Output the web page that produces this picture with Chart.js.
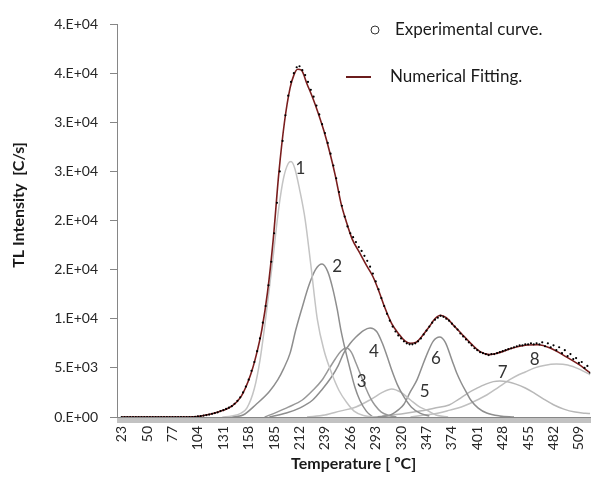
<!DOCTYPE html>
<html>
<head>
<meta charset="utf-8">
<title>TL glow curve</title>
<script src="https://cdn.jsdelivr.net/npm/chart.js@4.4.1/dist/chart.umd.min.js"></script>
<style>
  html, body { margin: 0; padding: 0; background: #fff; }
</style>
</head>
<body>
<canvas id="myChart" width="610" height="492"></canvas>
<script>
// ---- data ----
var xTickLabels = [23, 50, 77, 104, 131, 158, 185, 212, 239, 266, 293, 320, 347, 374, 401, 428, 455, 482, 509];
var yTickLabels = ['0.E+00', '5.E+03', '1.E+04', '2.E+04', '2.E+04', '3.E+04', '3.E+04', '4.E+04', '4.E+04'];

// experimental curve, one reading every 3 degC starting at 23 degC
var expStartT = 23;
var expStepT = 3;
var expValues = [
    0, 0, 0, 0, 0, 0, 0, 0, 0, 0,                                   // 23..50
    0, 0, 0, 0, 0, 0, 0, 0, 0, 0,                                   // 53..80
    0, 0, 0, 0, 0, 0, 20, 60, 100, 150,                             // 83..110
    200, 250, 320, 400, 480, 600, 700, 820, 950, 1100,              // 113..140
    1350, 1650, 2000, 2500, 3100, 3800, 4700, 5600, 6700, 8000,     // 143..170
    9600, 11300, 13400, 15800, 18700, 21800, 25000, 28100, 30700, 32700, // 173..200
    34100, 35000, 35600, 35700, 35300, 34800, 34100, 33300, 32600, 31700, // 203..230
    30800, 29800, 28900, 27900, 26800, 25600, 24300, 22900, 21500, 20400, // 233..260
    19400, 18700, 18300, 17800, 17300, 16900, 16400, 15900, 15300, 14600, // 263..290
    13800, 13000, 12100, 11300, 10500, 9800, 9200, 8700, 8300, 8000,  // 293..320
    7700, 7500, 7400, 7400, 7500, 7700, 8000, 8400, 8800, 9200,     // 323..350
    9600, 9900, 10100, 10300, 10200, 10000, 9800, 9500, 9200, 8900, // 353..380
    8500, 8200, 7900, 7600, 7300, 7000, 6800, 6600, 6500, 6400,     // 383..410
    6300, 6400, 6400, 6500, 6600, 6700, 6800, 6900, 7000, 7100,     // 413..440
    7200, 7300, 7300, 7400, 7400, 7500, 7400, 7500, 7400, 7600,     // 443..470
    7200, 7500, 7100, 7300, 6800, 7100, 6500, 6800, 6200, 6400,     // 473..500
    5900, 6000, 5500, 5600, 5000, 5200, 4500                        // 503..521
];

// numerical fitting
var fitT = [23, 60, 100, 110, 120, 130, 140, 150, 160, 166, 172, 178, 184, 190, 196, 202, 206, 210, 214, 220,
    226, 232, 238, 244, 250, 256, 262, 268, 276, 284, 290, 296, 302, 310, 318, 324, 330, 336, 342, 350,
    356, 362, 368, 376, 384, 394, 404, 414, 424, 438, 452, 465, 479, 495, 508, 521];
var fitV = [0, 0, 30, 150, 350, 650, 1100, 2100, 4300, 6300, 8900, 12700, 18000, 24800, 30000, 33500, 34800, 35400, 35300, 33900,
    32500, 30900, 29100, 27000, 24600, 21800, 19800, 18100, 16700, 15300, 14300, 12900, 11300, 9500, 8400, 7750, 7500, 7600, 8200, 9200,
    10000, 10350, 10100, 9300, 8500, 7500, 6650, 6350, 6550, 7000, 7300, 7350, 7000, 6150, 5400, 4500];

// glow peaks 1..8
var peak1T = [130, 140, 150, 156, 164, 170, 176, 183, 190, 195, 200, 203, 207, 212, 218, 224, 231, 238, 246, 254, 262, 270, 280, 295];
var peak1V = [0, 100, 400, 900, 2900, 5800, 10000, 15500, 21300, 24300, 25800, 26000, 25300, 23200, 20100, 15500, 9900, 6800, 4500, 2700, 1500, 600, 150, 0];
var peak2T = [140, 152, 166, 180, 189, 195, 202, 208, 215, 222, 229, 236, 242, 247, 252, 256, 261, 266, 271, 276, 283, 290];
var peak2V = [0, 200, 1300, 2600, 3800, 4900, 6500, 8850, 11200, 13400, 15000, 15570, 14800, 13200, 11000, 8850, 6700, 4780, 3000, 1730, 600, 0];
var peak3T = [175, 188, 200, 215, 226, 236, 244, 250, 256, 262, 267, 272, 277, 282, 287, 292, 299, 307, 315];
var peak3V = [0, 500, 1000, 1730, 2700, 3770, 5000, 5900, 6700, 7020, 6600, 5500, 4300, 3050, 2000, 1220, 500, 150, 0];
var peak4T = [180, 198, 212, 226, 236, 246, 253, 259, 266, 272, 280, 287, 294, 300, 305, 310, 316, 323, 331, 340, 350];
var peak4V = [0, 400, 900, 1730, 2800, 4070, 5200, 6510, 7500, 8140, 8800, 9060, 8700, 7530, 6200, 4780, 3300, 2040, 1000, 400, 100];
var peak5T = [220, 239, 255, 272, 288, 300, 310, 320, 330, 340, 347, 357, 370];
var peak5V = [0, 200, 600, 1020, 1800, 2500, 2850, 2500, 1730, 1000, 710, 200, 0];
var peak6T = [290, 307, 318, 323, 330, 337, 343, 348, 354, 361, 367, 374, 379, 384, 390, 394, 402, 411, 425, 440];
var peak6V = [0, 150, 800, 1300, 2600, 3800, 5300, 6500, 7700, 8140, 7600, 5800, 4500, 3460, 2400, 1730, 900, 400, 100, 0];
var peak7T = [300, 320, 340, 355, 371, 381, 391, 400, 410, 418, 425, 433, 442, 452, 462, 472, 482, 493, 505, 516, 521];
var peak7V = [100, 300, 600, 900, 1220, 1800, 2440, 2900, 3350, 3600, 3660, 3580, 3350, 2950, 2400, 1800, 1250, 800, 500, 380, 350];
var peak8T = [330, 345, 360, 372, 384, 398, 411, 423, 435, 445, 452, 462, 472, 485, 497, 510, 521];
var peak8V = [0, 200, 400, 700, 1020, 1600, 2240, 3000, 3770, 4300, 4580, 5000, 5250, 5390, 5300, 4850, 4300];

// ---- helpers ----
function toPoints(ts, vs) {
    return ts.map(function (t, i) { return { x: t, y: vs[i] }; });
}

var expPoints = expValues.map(function (v, i) {
    return { x: expStartT + i * expStepT, y: v };
});

function peakSet(ts, vs, color) {
    return {
        data: toPoints(ts, vs),
        borderColor: color,
        borderWidth: 1.5,
        pointRadius: 0,
        cubicInterpolationMode: 'monotone',
        order: 5
    };
}

var FONT = 'Lato, "Liberation Sans", sans-serif';

// peak numbers, placed in data coordinates
var peakTags = [
    { text: '1', x: 213, y: 25300 },
    { text: '2', x: 252, y: 15300 },
    { text: '3', x: 278, y: 3600 },
    { text: '4', x: 291, y: 6650 },
    { text: '5', x: 345, y: 2550 },
    { text: '6', x: 357, y: 6000 },
    { text: '7', x: 428, y: 4500 },
    { text: '8', x: 462, y: 5800 }
];

// titles, legend and peak numbers
var textLayer = {
    id: 'textLayer',
    afterDraw: function (chart) {
        var ctx = chart.ctx;
        var xs = chart.scales.x, ys = chart.scales.y;
        ctx.save();

        // y title
        ctx.translate(19, 205);
        ctx.rotate(-Math.PI / 2);
        ctx.font = 'bold 16px ' + FONT;
        ctx.fillStyle = '#1a1a1a';
        ctx.textAlign = 'center';
        ctx.textBaseline = 'middle';
        ctx.fillText('TL Intensity  [C/s]', 0, 0);
        ctx.setTransform(1, 0, 0, 1, 0, 0);

        // legend
        ctx.font = '17px ' + FONT;
        ctx.fillStyle = '#1a1a1a';
        ctx.textAlign = 'left';
        ctx.textBaseline = 'middle';
        ctx.beginPath();
        ctx.arc(375, 30, 4, 0, Math.PI * 2);
        ctx.strokeStyle = '#333';
        ctx.lineWidth = 1;
        ctx.stroke();
        ctx.fillText('Experimental curve.', 395, 30);

        ctx.beginPath();
        ctx.moveTo(346, 77);
        ctx.lineTo(371, 77);
        ctx.strokeStyle = '#6b1c1c';
        ctx.lineWidth = 2;
        ctx.stroke();
        ctx.fillText('Numerical Fitting.', 390, 77);

        // peak numbers
        ctx.font = '17px ' + FONT;
        ctx.fillStyle = '#333';
        ctx.textAlign = 'center';
        peakTags.forEach(function (p) {
            ctx.fillText(p.text, xs.getPixelForValue(p.x), ys.getPixelForValue(p.y));
        });
        ctx.restore();
    }
};

var ctx = document.getElementById('myChart').getContext('2d');
var chart = new Chart(ctx, {
    type: 'line',
    data: {
        datasets: [{
            label: 'Experimental curve.',
            data: expPoints,
            showLine: false,
            pointRadius: 1.1,
            pointBorderWidth: 0,
            pointBackgroundColor: '#000',
            order: 0
        }, {
            label: 'Numerical Fitting.',
            data: toPoints(fitT, fitV),
            borderColor: '#7a1e1e',
            borderWidth: 1.6,
            pointRadius: 0,
            cubicInterpolationMode: 'monotone',
            order: 1
        },
            peakSet(peak1T, peak1V, '#c4c4c4'),
            peakSet(peak2T, peak2V, '#8e8e8e'),
            peakSet(peak3T, peak3V, '#989898'),
            peakSet(peak4T, peak4V, '#8e8e8e'),
            peakSet(peak5T, peak5V, '#c0c0c0'),
            peakSet(peak6T, peak6V, '#8e8e8e'),
            peakSet(peak7T, peak7V, '#b8b8b8'),
            peakSet(peak8T, peak8V, '#c0c0c0')
        ]
    },
    options: {
        responsive: false,
        animation: false,
        devicePixelRatio: 1,
        layout: { padding: { top: 24, right: 2, bottom: 0, left: 0 } },
        plugins: { legend: { display: false }, tooltip: { enabled: false } },
        scales: {
            x: {
                type: 'linear',
                min: 18,
                max: 521,
                afterFit: function (s) { s.height = 75; },
                border: { color: '#868686' },
                grid: { drawOnChartArea: false, tickLength: 6, color: '#c2c2c2' },
                ticks: {
                    stepSize: 1,
                    autoSkip: false,
                    maxRotation: 90,
                    minRotation: 90,
                    padding: 3,
                    color: '#262626',
                    font: { family: FONT, size: 14 },
                    callback: function (v) {
                        return xTickLabels.indexOf(v) >= 0 ? String(v) : '';
                    }
                },
                title: {
                    display: true,
                    text: 'Temperature [ ºC]',
                    color: '#1a1a1a',
                    font: { family: FONT, size: 16, weight: 'bold' },
                    padding: { top: 4, bottom: 19 }
                }
            },
            y: {
                min: 0,
                max: 40000,
                afterFit: function (s) { s.width = 117; },
                border: { color: '#868686' },
                grid: { drawOnChartArea: false, tickLength: 7, color: '#868686' },
                ticks: {
                    stepSize: 5000,
                    padding: 12,
                    color: '#262626',
                    font: { family: FONT, size: 14 },
                    callback: function (v, i) { return yTickLabels[i]; }
                }
            }
        }
    },
    plugins: [textLayer]
});
</script>
</body>
</html>
